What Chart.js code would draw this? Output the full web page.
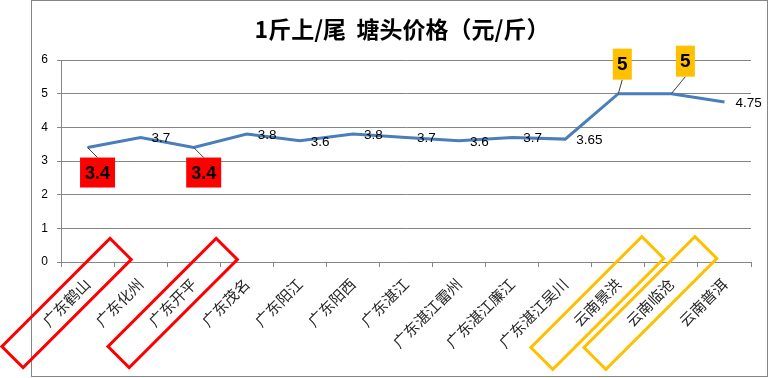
<!DOCTYPE html>
<html>
<head>
<meta charset="utf-8">
<script src="https://cdn.jsdelivr.net/npm/chart.js@4/dist/chart.umd.min.js"></script>
<style>
  html, body { margin: 0; padding: 0; background: #fff; }
</style>
</head>
<body>
<canvas id="c" width="769" height="378"></canvas>
<script>
// 1斤上/尾 塘头价格 — line chart, highlighted origins boxed in red / gold.

const title = '1斤上/尾  塘头价格（元/斤）';
const categories = [
  '广东鹤山', '广东化州', '广东开平', '广东茂名', '广东阳江', '广东阳西', '广东湛江',
  '广东湛江雷州', '广东湛江廉江', '广东湛江吴川', '云南景洪', '云南临沧', '云南普洱',
];
const prices = [3.4, 3.7, 3.4, 3.8, 3.6, 3.8, 3.7, 3.6, 3.7, 3.65, 5, 5, 4.75];
const yTicks = [0, 1, 2, 3, 4, 5, 6];
const redMarked = [0, 2];
const goldMarked = [10, 11];

const GRID = '#868686';
const LINE = '#4A7EBB';
const RED = '#FF0000';
const GOLD = '#FFC000';

// white page + thin grey frame, title on top
const frame = {
  id: 'frame',
  beforeDraw(chart) {
    const c = chart.ctx;
    c.save();
    c.fillStyle = '#fff';
    c.fillRect(0, 0, chart.width, chart.height);
    c.strokeStyle = GRID;
    c.lineWidth = 1;
    c.strokeRect(31.5, 0.5, 736, 376);
    c.fillStyle = '#000';
    c.font = 'bold 23px "Noto Sans CJK SC"';
    c.textAlign = 'center';
    c.textBaseline = 'middle';
    c.fillText(title, 402, 29);
    c.restore();
  },
};

// value labels; boxed callouts for the highlighted points
const valueLabels = {
  id: 'valueLabels',
  afterDatasetsDraw(chart) {
    const c = chart.ctx;
    const pts = chart.getDatasetMeta(0).data;
    c.save();
    pts.forEach((p, i) => {
      const v = String(prices[i]);
      if (redMarked.includes(i)) {
        const w = 35, h = 30, cx = p.x + 10, top = p.y + 10;
        c.strokeStyle = '#404040'; c.lineWidth = 1;
        c.beginPath(); c.moveTo(p.x, p.y); c.lineTo(cx, top); c.stroke();
        c.fillStyle = RED; c.fillRect(cx - w / 2, top, w, h);
        c.fillStyle = '#000'; c.font = 'bold 18px "Liberation Sans"';
        c.textAlign = 'center'; c.textBaseline = 'middle';
        c.fillText(v, cx, top + h / 2 + 1);
      } else if (goldMarked.includes(i)) {
        const w = 19, h = 31, cx = p.x + (i === goldMarked[0] ? 4 : 14), bottom = p.y - (i === goldMarked[0] ? 14 : 17);
        c.strokeStyle = '#404040'; c.lineWidth = 1;
        c.beginPath(); c.moveTo(p.x, p.y); c.lineTo(cx, bottom); c.stroke();
        c.fillStyle = GOLD; c.fillRect(cx - w / 2, bottom - h, w, h);
        c.fillStyle = '#000'; c.font = 'bold 19px "Liberation Sans"';
        c.textAlign = 'center'; c.textBaseline = 'middle';
        c.fillText(v, cx, bottom - h / 2 + 1);
      } else {
        c.fillStyle = '#000'; c.font = '13.5px "Liberation Sans"';
        c.textAlign = 'left'; c.textBaseline = 'middle';
        c.fillText(v, p.x + 11, p.y + 1);
      }
    });
    c.restore();
  },
};

// rotated outline boxes round the highlighted category labels
const labelBoxes = {
  id: 'labelBoxes',
  afterDraw(chart) {
    const c = chart.ctx;
    const x = chart.scales.x;
    const base = chart.chartArea.bottom;
    const draw = (i, color, len, wid) => {
      c.save();
      c.translate(x.getPixelForValue(i) - 21, base + 41);
      c.rotate(-Math.PI / 4);
      c.strokeStyle = color;
      c.lineWidth = 3;
      c.strokeRect(-len / 2, -wid / 2, len, wid);
      c.restore();
    };
    redMarked.forEach(i => draw(i, RED, 153, 30));
    goldMarked.forEach(i => draw(i, GOLD, 157, 31));
  },
};

// eslint-disable-next-line no-undef
new Chart(document.getElementById('c').getContext('2d'), {
  type: 'line',
  data: {
    labels: categories,
    datasets: [{
      data: prices,
      borderColor: LINE,
      borderWidth: 3,
      pointRadius: 0,
      tension: 0,
      fill: false,
    }],
  },
  options: {
    responsive: false,
    animation: false,
    layout: { padding: { top: 60, left: 0, right: 18, bottom: 0 } },
    plugins: { legend: { display: false }, tooltip: { enabled: false }, title: { display: false } },
    scales: {
      x: {
        offset: true,
        grid: { offset: true, drawOnChartArea: false, color: GRID, tickLength: 5 },
        border: { color: GRID },
        ticks: {
          autoSkip: false, maxRotation: 45, minRotation: 45, padding: 8,
          color: '#262626', font: { family: '"Noto Sans CJK SC"', size: 15 },
        },
        afterFit: s => { s.height = 116; },
      },
      y: {
        min: yTicks[0], max: yTicks[yTicks.length - 1],
        afterBuildTicks: s => { s.ticks = yTicks.map(v => ({ value: v })); },
        grid: { color: GRID, tickLength: 4 },
        border: { color: GRID },
        ticks: { padding: 9, color: '#000', font: { family: '"Liberation Sans"', size: 12 } },
        afterFit: s => { s.width = 61; },
      },
    },
  },
  plugins: [frame, valueLabels, labelBoxes],
});
</script>
</body>
</html>
